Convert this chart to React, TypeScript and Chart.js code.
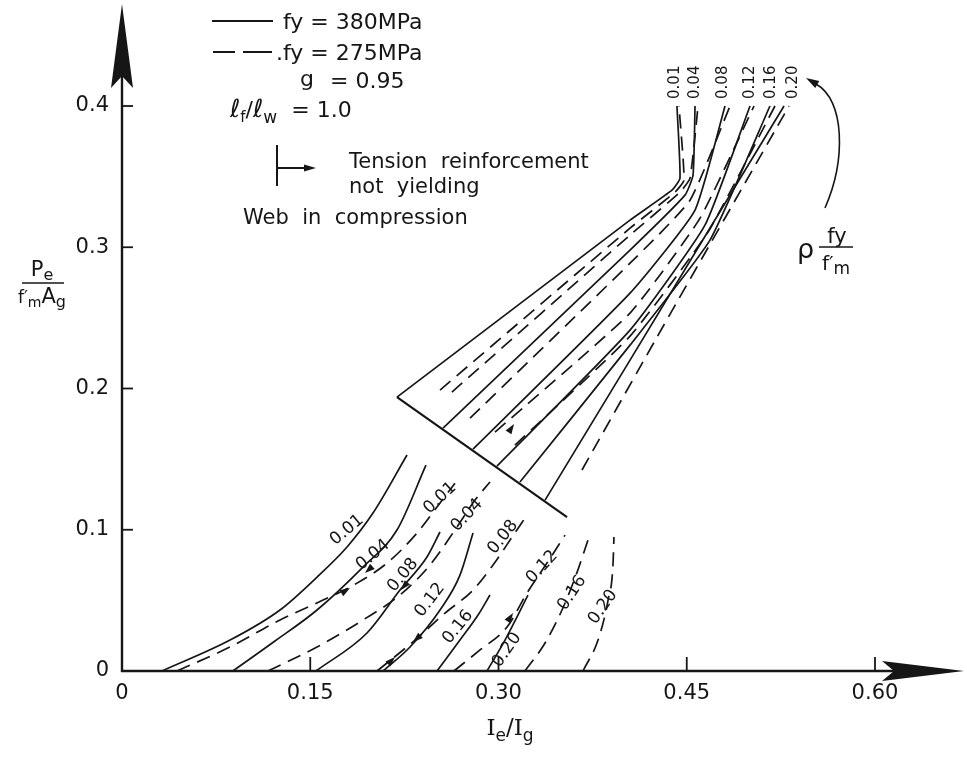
import React, { useEffect, useRef } from "react";
import { Chart, registerables } from "chart.js";

Chart.register(...registerables);

const INK = "#161616";
const FONT = '"DejaVu Sans", "Liberation Sans", sans-serif';

// ---- axes ----
const X_TICKS = [0, 0.15, 0.3, 0.45, 0.6];
const X_TICK_LABELS = ["0", "0.15", "0.30", "0.45", "0.60"];
const Y_TICKS = [0, 0.1, 0.2, 0.3, 0.4];
const Y_TICK_LABELS = ["0", "0.1", "0.2", "0.3", "0.4"];

// ---- curve parameter  rho*fy/f'm ----
const RHO = ["0.01", "0.04", "0.08", "0.12", "0.16", "0.20"];

// ---- lower family (tension steel yielding), fy = 380 MPa, solid ----
const LOW380_X = [
  [0.0319, 0.0861, 0.1259, 0.1554, 0.1793, 0.2, 0.2271],
  [0.0884, 0.1219, 0.1554, 0.192, 0.2191, 0.2422],
  [0.1546, 0.1952, 0.2215, 0.243, 0.2534],
  [0.208, 0.2295, 0.2534, 0.2693, 0.2797],
  [0.251, 0.2693, 0.2837, 0.2932],
  [0.2908, 0.3052, 0.3155, 0.3235],
];
const LOW380_Y = [
  [0, 0.0219, 0.0432, 0.0665, 0.0878, 0.1118, 0.1529],
  [0, 0.0212, 0.0432, 0.0736, 0.0998, 0.1458],
  [0, 0.0269, 0.0573, 0.0807, 0.0984],
  [0, 0.017, 0.0432, 0.0679, 0.0977],
  [0, 0.0219, 0.0396, 0.0538],
  [0, 0.0219, 0.0396, 0.0538],
];

// ---- lower family, fy = 275 MPa, dashed ----
const LOW275_X = [
  [0.0438, 0.0861, 0.1259, 0.1602, 0.1817, 0.2112, 0.2351, 0.251, 0.2653],
  [0.1163, 0.1554, 0.192, 0.2215, 0.2454, 0.2653, 0.2813, 0.2932],
  [0.2032, 0.2335, 0.2574, 0.2797, 0.2956, 0.3108, 0.3227],
  [0.2645, 0.2853, 0.3068, 0.3227, 0.3386, 0.353],
  [0.3211, 0.3371, 0.3506, 0.3618, 0.3713],
  [0.3673, 0.3793, 0.3873, 0.3912, 0.392],
];
const LOW275_Y = [
  [0, 0.017, 0.0361, 0.0502, 0.0594, 0.0764, 0.0977, 0.1161, 0.133],
  [0, 0.017, 0.0361, 0.0538, 0.075, 0.0998, 0.121, 0.1338],
  [0, 0.0219, 0.041, 0.0573, 0.075, 0.0948, 0.1104],
  [0, 0.0149, 0.0311, 0.0552, 0.0764, 0.0962],
  [0, 0.0198, 0.0432, 0.0679, 0.0927],
  [0, 0.0219, 0.0502, 0.075, 0.0948],
];

// ---- upper family (tension steel not yielding), fy = 380 MPa, solid ----
const UP380_X = [
  [0.2191, 0.4048, 0.4382, 0.4446, 0.4422],
  [0.2558, 0.4048, 0.4486, 0.455, 0.4566],
  [0.2797, 0.4048, 0.4566, 0.4805],
  [0.2988, 0.4048, 0.4645, 0.5004],
  [0.3171, 0.4048, 0.4685, 0.5163],
  [0.3371, 0.4048, 0.5275],
];
const UP380_Y = [
  [0.1939, 0.3192, 0.3404, 0.3489, 0.4],
  [0.172, 0.298, 0.3369, 0.351, 0.4],
  [0.1571, 0.2675, 0.3263, 0.4],
  [0.1451, 0.2413, 0.3156, 0.4],
  [0.1338, 0.2307, 0.305, 0.4],
  [0.121, 0.2201, 0.4],
];

// ---- upper family, fy = 275 MPa, dashed ----
const UP275_X = [
  [0.2534, 0.4048, 0.4406, 0.4478, 0.4438],
  [0.2629, 0.4048, 0.4446, 0.4526, 0.459],
  [0.2773, 0.4048, 0.4526, 0.4845],
  [0.2972, 0.4048, 0.4606, 0.5036],
  [0.3131, 0.4048, 0.4669, 0.5203],
  [0.3665, 0.4263, 0.5315],
];
const UP275_Y = [
  [0.1989, 0.3135, 0.339, 0.3475, 0.4],
  [0.1975, 0.3086, 0.339, 0.3489, 0.4],
  [0.179, 0.2887, 0.3333, 0.4],
  [0.1691, 0.2534, 0.3206, 0.4],
  [0.1599, 0.2371, 0.3107, 0.4],
  [0.1423, 0.2364, 0.4],
];

// ---- boundary: web in compression / tension reinforcement not yielding ----
const BOUNDARY_X = [0.2191, 0.3546];
const BOUNDARY_Y = [0.1939, 0.109];

// ---- label anchors (data units) ----
const LOW380_LABEL_X = [0.1793, 0.2, 0.2239, 0.2454, 0.2677, 0.3068];
const LOW380_LABEL_Y = [0.0998, 0.0821, 0.0679, 0.0502, 0.0311, 0.0149];
const LOW380_LABEL_ROT = [-40, -40, -50, -53, -51, -55];
const LOW275_LABEL_X = [0.2534, 0.2749, 0.3036, 0.3347, 0.3586, 0.3833];
const LOW275_LABEL_Y = [0.1224, 0.1104, 0.0948, 0.0736, 0.0552, 0.0453];
const LOW275_LABEL_ROT = [-43, -47, -52, -47, -56, -55];
const TOP_LABEL_X = [0.4406, 0.4566, 0.4789, 0.5004, 0.5171, 0.5347];
const TOP_LABEL_Y = 0.4168;

// small arrowheads on curves: position (data) and screen direction
const CURVE_ARROWS = [
  { x: 0.1936, y: 0.0694, dx: -1, dy: 0.9 },
  { x: 0.1817, y: 0.0587, dx: 1, dy: -0.6 },
  { x: 0.2223, y: 0.0573, dx: -1, dy: 1.2 },
  { x: 0.2319, y: 0.0205, dx: -1, dy: 0.9 },
  { x: 0.2175, y: 0.0099, dx: 1, dy: -1 },
  { x: 0.3116, y: 0.041, dx: 1, dy: -1.5 },
  { x: 0.3124, y: 0.1748, dx: 1, dy: -1.5 },
];

type Part = { t: string; size: number; dy?: number; italic?: boolean; family?: string };

function fontOf(p: Part) {
  return `${p.italic ? "italic " : ""}${p.size}px ${p.family || FONT}`;
}

function drawRich(ctx: CanvasRenderingContext2D, parts: Part[], x: number, y: number, align: "left" | "center" = "left") {
  ctx.textAlign = "left";
  ctx.textBaseline = "alphabetic";
  let w = 0;
  for (const p of parts) {
    ctx.font = fontOf(p);
    w += ctx.measureText(p.t).width;
  }
  let cx = align === "center" ? x - w / 2 : x;
  for (const p of parts) {
    ctx.font = fontOf(p);
    ctx.fillText(p.t, cx, y + (p.dy || 0));
    cx += ctx.measureText(p.t).width;
  }
}

function arrowHead(ctx: CanvasRenderingContext2D, x: number, y: number, dx: number, dy: number, len: number, half: number) {
  const m = Math.hypot(dx, dy);
  const ux = dx / m, uy = dy / m;
  const bx = x - ux * len, by = y - uy * len;
  ctx.beginPath();
  ctx.moveTo(x, y);
  ctx.lineTo(bx - uy * half, by + ux * half);
  ctx.lineTo(bx + uy * half, by - ux * half);
  ctx.closePath();
  ctx.fill();
}

const overlay = {
  id: "overlay",
  afterDraw(chart: any) {
    const ctx: CanvasRenderingContext2D = chart.ctx;
    const xs = chart.scales.x, ys = chart.scales.y;
    const px = (v: number) => xs.getPixelForValue(v);
    const py = (v: number) => ys.getPixelForValue(v);
    ctx.save();
    ctx.strokeStyle = INK;
    ctx.fillStyle = INK;
    ctx.setLineDash([]);

    const x0 = px(0), y0 = py(0);
    // axes
    ctx.lineWidth = 2.4;
    ctx.beginPath();
    ctx.moveTo(x0, y0 + 1);
    ctx.lineTo(x0, 60);
    ctx.stroke();
    ctx.beginPath();
    ctx.moveTo(x0 - 1, y0);
    ctx.lineTo(900, y0);
    ctx.stroke();
    // y arrow
    ctx.beginPath();
    ctx.moveTo(x0, 4);
    ctx.lineTo(x0 + 11, 88);
    ctx.lineTo(x0, 76);
    ctx.lineTo(x0 - 11, 88);
    ctx.closePath();
    ctx.fill();
    // x arrow
    ctx.beginPath();
    ctx.moveTo(964, y0);
    ctx.lineTo(882, y0 - 10);
    ctx.lineTo(894, y0);
    ctx.lineTo(882, y0 + 10);
    ctx.closePath();
    ctx.fill();

    // tick marks (inside)
    ctx.lineWidth = 1.8;
    X_TICKS.slice(1).forEach((v) => {
      ctx.beginPath();
      ctx.moveTo(px(v), y0);
      ctx.lineTo(px(v), y0 - 14);
      ctx.stroke();
    });
    Y_TICKS.slice(1).forEach((v) => {
      ctx.beginPath();
      ctx.moveTo(x0, py(v));
      ctx.lineTo(x0 + 11, py(v));
      ctx.stroke();
    });

    // axis titles
    drawRich(ctx, [
      { t: "I", size: 23, family: '"DejaVu Serif", serif' },
      { t: "e", size: 17, dy: 6 },
      { t: "/", size: 23 },
      { t: "I", size: 23, family: '"DejaVu Serif", serif' },
      { t: "g", size: 17, dy: 6 },
    ], 510, 735, "center");

    drawRich(ctx, [{ t: "P", size: 21 }, { t: "e", size: 16, dy: 4 }], 42, 276, "center");
    ctx.lineWidth = 1.6;
    ctx.beginPath();
    ctx.moveTo(22, 283);
    ctx.lineTo(64, 283);
    ctx.stroke();
    drawRich(ctx, [
      { t: "f\u2032", size: 17 },
      { t: "m", size: 14, dy: 4 },
      { t: "A", size: 21 },
      { t: "g", size: 16, dy: 4 },
    ], 42, 303, "center");

    // legend block
    ctx.lineWidth = 2;
    ctx.beginPath();
    ctx.moveTo(212, 21);
    ctx.lineTo(273, 21);
    ctx.stroke();
    drawRich(ctx, [{ t: "fy = 380MPa", size: 22 }], 283, 29);
    ctx.beginPath();
    ctx.moveTo(213, 52);
    ctx.lineTo(235, 52);
    ctx.moveTo(243, 52);
    ctx.lineTo(272, 52);
    ctx.stroke();
    drawRich(ctx, [{ t: ".fy = 275MPa", size: 22 }], 276, 60);
    drawRich(ctx, [{ t: "g", size: 22 }], 300, 86);
    drawRich(ctx, [{ t: "= 0.95", size: 22 }], 330, 88);
    drawRich(ctx, [
      { t: "\u2113", size: 25, italic: true },
      { t: "f", size: 15, dy: 5 },
      { t: "/", size: 22 },
      { t: "\u2113", size: 25, italic: true },
      { t: "w", size: 17, dy: 6 },
      { t: "  = 1.0", size: 22 },
    ], 230, 117);

    // tension-not-yielding marker
    ctx.lineWidth = 2;
    ctx.beginPath();
    ctx.moveTo(277, 145);
    ctx.lineTo(277, 186);
    ctx.moveTo(277, 168);
    ctx.lineTo(306, 168);
    ctx.stroke();
    arrowHead(ctx, 316, 168, 1, 0, 12, 3.5);
    drawRich(ctx, [{ t: "Tension  reinforcement", size: 21 }], 349, 168);
    drawRich(ctx, [{ t: "not  yielding", size: 21 }], 349, 193);
    drawRich(ctx, [{ t: "Web  in  compression", size: 21 }], 243, 224);

    // curve labels, lower families
    ctx.textAlign = "center";
    ctx.textBaseline = "middle";
    ctx.font = `17px ${FONT}`;
    const rotLabel = (t: string, x: number, y: number, deg: number) => {
      ctx.save();
      ctx.translate(px(x), py(y));
      ctx.rotate((deg * Math.PI) / 180);
      ctx.fillText(t, 0, 0);
      ctx.restore();
    };
    RHO.forEach((t, i) => rotLabel(t, LOW380_LABEL_X[i], LOW380_LABEL_Y[i], LOW380_LABEL_ROT[i]));
    RHO.forEach((t, i) => rotLabel(t, LOW275_LABEL_X[i], LOW275_LABEL_Y[i], LOW275_LABEL_ROT[i]));
    // top labels
    ctx.font = `15px ${FONT}`;
    RHO.forEach((t, i) => rotLabel(t, TOP_LABEL_X[i], TOP_LABEL_Y, -90));

    // arrowheads on curves
    CURVE_ARROWS.forEach((a) => arrowHead(ctx, px(a.x), py(a.y), a.dx, a.dy, 10, 3.5));

    // rho fy / f'm label with curved leader
    ctx.lineWidth = 1.6;
    ctx.beginPath();
    ctx.moveTo(825, 208);
    ctx.bezierCurveTo(846, 160, 845, 100, 816, 84);
    ctx.stroke();
    arrowHead(ctx, 806, 78, -1.3, -0.75, 13, 4);
    drawRich(ctx, [{ t: "\u03C1", size: 27 }], 797, 258);
    drawRich(ctx, [{ t: "fy", size: 21 }], 837, 243, "center");
    ctx.lineWidth = 1.6;
    ctx.beginPath();
    ctx.moveTo(819, 247);
    ctx.lineTo(853, 247);
    ctx.stroke();
    drawRich(ctx, [{ t: "f\u2032", size: 20 }, { t: "m", size: 17, dy: 4 }], 836, 270, "center");

    ctx.restore();
  },
};

function series(xs: number[], ys: number[], dashed: boolean, tension: number, width = 1.7, monotone = false) {
  return {
    data: xs.map((x, i) => ({ x, y: ys[i] })),
    showLine: true,
    borderColor: INK,
    backgroundColor: INK,
    borderWidth: width,
    pointRadius: 0,
    pointHoverRadius: 0,
    borderDash: dashed ? [14, 8] : [],
    tension,
    cubicInterpolationMode: monotone ? "monotone" : "default",
    fill: false,
    clip: false as any,
  };
}

export default function App() {
  const ref = useRef<HTMLCanvasElement | null>(null);
  useEffect(() => {
    if (!ref.current) return;
    const datasets: any[] = [];
    LOW380_X.forEach((xs, i) => datasets.push(series(xs, LOW380_Y[i], false, 0.4, 1.7, true)));
    LOW275_X.forEach((xs, i) => datasets.push(series(xs, LOW275_Y[i], true, 0.4, 1.7, true)));
    UP380_X.forEach((xs, i) => datasets.push(series(xs, UP380_Y[i], false, 0.15)));
    UP275_X.forEach((xs, i) => datasets.push(series(xs, UP275_Y[i], true, 0.15)));
    datasets.push(series(BOUNDARY_X, BOUNDARY_Y, false, 0, 2.2));

    const chart = new Chart(ref.current, {
      type: "scatter",
      data: { datasets },
      options: {
        animation: false,
        responsive: false,
        maintainAspectRatio: false,
        layout: { padding: { left: 0, right: 92, top: 106, bottom: 0 } },
        plugins: { legend: { display: false }, tooltip: { enabled: false } },
        events: [],
        scales: {
          x: {
            type: "linear",
            min: 0,
            max: 0.6,
            afterBuildTicks: (s: any) => {
              s.ticks = X_TICKS.map((v) => ({ value: v }));
            },
            afterFit: (s: any) => {
              s.height = 88;
            },
            grid: { display: false, drawTicks: false },
            border: { display: false },
            ticks: {
              autoSkip: false,
              maxRotation: 0,
              padding: 10,
              color: INK,
              font: { family: FONT, size: 21 },
              callback: (_v: any, i: number) => X_TICK_LABELS[i],
            },
          },
          y: {
            type: "linear",
            min: 0,
            max: 0.4,
            afterBuildTicks: (s: any) => {
              s.ticks = Y_TICKS.map((v) => ({ value: v }));
            },
            afterFit: (s: any) => {
              s.width = 122;
            },
            grid: { display: false, drawTicks: false },
            border: { display: false },
            ticks: {
              autoSkip: false,
              padding: 13,
              color: INK,
              font: { family: FONT, size: 21 },
              callback: (_v: any, i: number) => Y_TICK_LABELS[i],
            },
          },
        },
      } as any,
      plugins: [overlay],
    });
    return () => chart.destroy();
  }, []);

  return (
    <div style={{ position: "absolute", left: 0, top: 0, width: 967, height: 759, background: "#fff" }}>
      <canvas ref={ref} width={967} height={759} style={{ width: 967, height: 759, display: "block" }} />
    </div>
  );
}
